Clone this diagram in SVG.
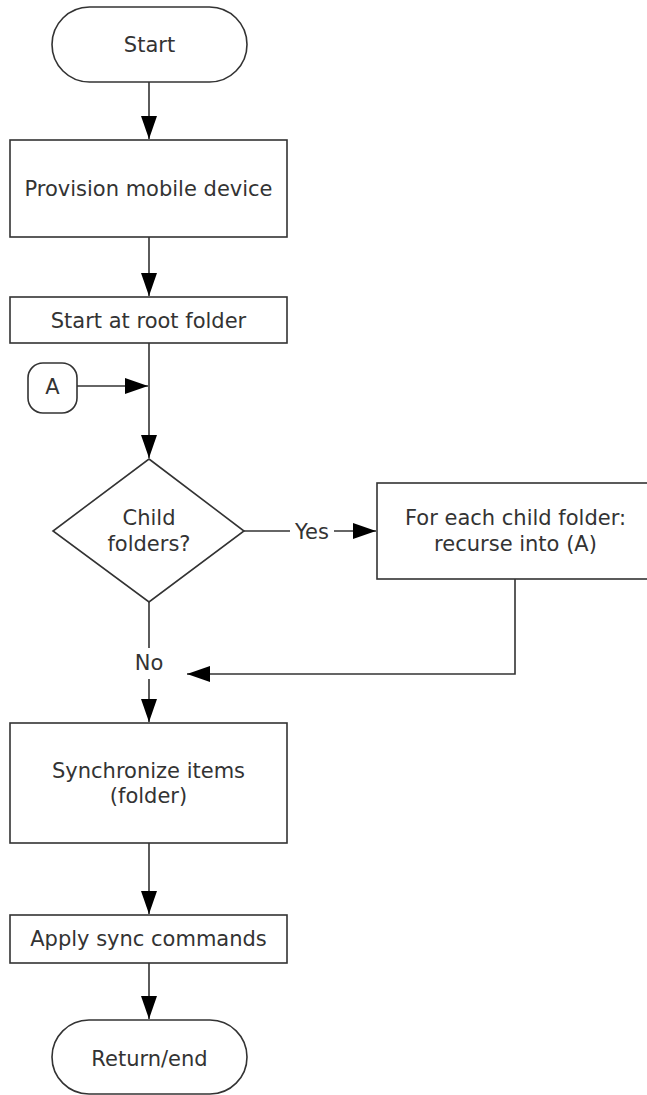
<svg xmlns="http://www.w3.org/2000/svg" width="647" height="1095" viewBox="0 0 647 1095">
<style>
.s{fill:#fff;stroke:#333;stroke-width:1.6}
.c{fill:none;stroke:#333;stroke-width:1.6}
text{font-family:"DejaVu Sans",Verdana,sans-serif;font-size:21px;fill:#333;text-anchor:middle}
</style>
<defs>
<marker id="ah" markerUnits="userSpaceOnUse" markerWidth="24" markerHeight="16" refX="23" refY="8" orient="auto">
<path d="M0,0 L23,8 L0,16 z" fill="#000"/>
</marker>
</defs>
<rect width="647" height="1095" fill="#fff"/>
<g id="connectors">
<line class="c" x1="149" y1="82" x2="149" y2="139" marker-end="url(#ah)"/>
<line class="c" x1="149" y1="237" x2="149" y2="296" marker-end="url(#ah)"/>
<line class="c" x1="149" y1="343" x2="149" y2="458" marker-end="url(#ah)"/>
<line class="c" x1="77" y1="386" x2="148" y2="386" marker-end="url(#ah)"/>
<line class="c" x1="244" y1="531" x2="290" y2="531"/>
<line class="c" x1="334" y1="531" x2="376" y2="531" marker-end="url(#ah)"/>
<line class="c" x1="149" y1="602" x2="149" y2="648"/>
<line class="c" x1="149" y1="679" x2="149" y2="722" marker-end="url(#ah)"/>
<polyline class="c" points="515,579 515,674 187,674" marker-end="url(#ah)"/>
<line class="c" x1="149" y1="843" x2="149" y2="914" marker-end="url(#ah)"/>
<line class="c" x1="149" y1="963" x2="149" y2="1019" marker-end="url(#ah)"/>
<text x="312" y="539">Yes</text>
<text x="149" y="670">No</text>
</g>
<g id="start">
<rect class="s" x="52" y="7" width="195" height="75" rx="37.5"/>
<text x="149.5" y="52">Start</text>
</g>
<g id="provision">
<rect class="s" x="10" y="140" width="277" height="97"/>
<text x="148.5" y="196">Provision mobile device</text>
</g>
<g id="root">
<rect class="s" x="10" y="297" width="277" height="46"/>
<text x="148.5" y="328">Start at root folder</text>
</g>
<g id="connectorA">
<rect class="s" x="28" y="363" width="49" height="50" rx="15"/>
<text x="52.5" y="394">A</text>
</g>
<g id="decision">
<polygon class="s" points="149,459 244,531 149,602 53,531"/>
<text x="149" y="525">Child</text>
<text x="149" y="551">folders?</text>
</g>
<g id="recurse">
<rect class="s" x="377" y="483" width="277" height="96"/>
<text x="515.5" y="525">For each child folder:</text>
<text x="515.5" y="551">recurse into (A)</text>
</g>
<g id="sync">
<rect class="s" x="10" y="723" width="277" height="120"/>
<text x="148.5" y="778">Synchronize items</text>
<text x="148.5" y="803">(folder)</text>
</g>
<g id="apply">
<rect class="s" x="10" y="915" width="277" height="48"/>
<text x="148.5" y="946">Apply sync commands</text>
</g>
<g id="end">
<rect class="s" x="52" y="1020" width="195" height="74" rx="37"/>
<text x="149.5" y="1066">Return/end</text>
</g>
</svg>
